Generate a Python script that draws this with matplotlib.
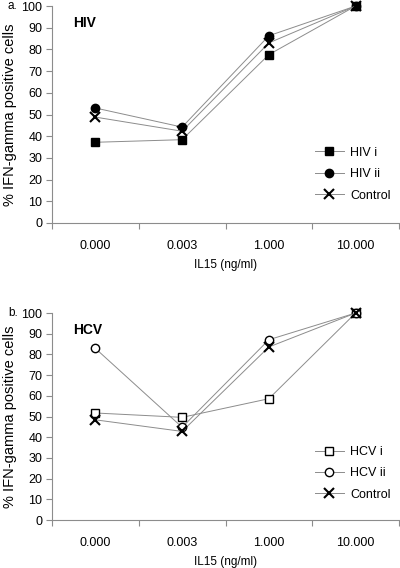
import matplotlib
matplotlib.use("Agg")
import matplotlib.pyplot as plt

plt.rcParams['font.family'] = ['Liberation Sans', 'DejaVu Sans']

categories = ["0.000", "0.003", "1.000", "10.000"]
yticks = [0, 10, 20, 30, 40, 50, 60, 70, 80, 90, 100]

hiv_i = [37.2, 38.4, 77.6, 100]
hiv_ii = [53.0, 44.2, 86.3, 100]
hiv_control = [48.8, 42.3, 83.0, 100]

hcv_i = [51.7, 49.6, 58.6, 100]
hcv_ii = [82.9, 44.8, 87.1, 100]
hcv_control = [48.4, 42.8, 83.6, 100]

panels = [
    dict(rect=[0.13, 0.6074, 0.8675, 0.382], letter="a.", title="HIV",
         series=[("HIV i", hiv_i, 's', 'full'),
                 ("HIV ii", hiv_ii, 'o', 'full'),
                 ("Control", hiv_control, 'x', 'full')]),
    dict(rect=[0.13, 0.0845, 0.8675, 0.3644], letter="b.", title="HCV",
         series=[("HCV i", hcv_i, 's', 'none'),
                 ("HCV ii", hcv_ii, 'o', 'none'),
                 ("Control", hcv_control, 'x', 'full')]),
]

fig = plt.figure(figsize=(4.0, 5.68), dpi=100)
gray = '#8c8c8c'
x = list(range(len(categories)))

for p in panels:
    ax = fig.add_axes(p["rect"])
    for label, vals, mk, fs in p["series"]:
        ms = 6.5 if mk == 'x' else 6
        ax.plot(x, vals, color=gray, lw=0.7, marker=mk, markersize=ms,
                markerfacecolor='black' if fs == 'full' else 'white',
                markeredgecolor='black', markeredgewidth=1.5 if mk == 'x' else 1.0,
                label=label, zorder=3, clip_on=False)
    ax.set_xlim(-0.5, len(categories) - 0.5)
    ax.set_ylim(0, 100)
    ax.set_yticks(yticks)
    ax.set_xticks(x)
    ax.set_xticklabels(categories)
    ax.set_xticks([i - 0.5 for i in range(len(categories) + 1)], minor=True)
    ax.tick_params(axis='x', which='major', length=0, pad=12, labelsize=9)
    ax.tick_params(axis='x', which='minor', length=4, color=gray, width=0.8)
    ax.tick_params(axis='y', length=4, color=gray, width=0.8, labelsize=9, pad=3)
    for s in ['top', 'right']:
        ax.spines[s].set_visible(False)
    for s in ['left', 'bottom']:
        ax.spines[s].set_color(gray)
        ax.spines[s].set_linewidth(0.8)
    ax.set_xlabel("IL15 (ng/ml)", fontsize=8.5, labelpad=5)
    ax.set_ylabel("% IFN-gamma positive cells", fontsize=10.5, labelpad=3)
    ax.text(-0.26, 92, p["title"], fontsize=10, fontweight='bold', va='center', ha='left')
    bbox = ax.get_position()
    fig.text(0.02, bbox.y1, p["letter"], fontsize=8.5, ha='left', va='center')
    ax.legend(loc='center left', bbox_to_anchor=(0.74, 0.225), frameon=False,
              fontsize=9, handlelength=2.3, handletextpad=0.5, labelspacing=0.75,
              borderpad=0)

fig.savefig("out.png", dpi=100)
